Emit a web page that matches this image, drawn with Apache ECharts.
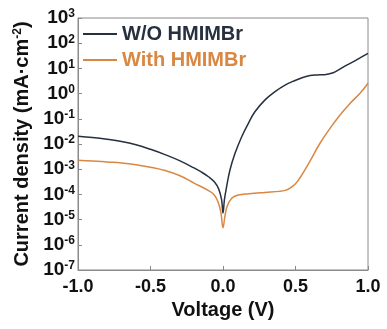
<!DOCTYPE html>
<html><head><meta charset="utf-8">
<script src="https://cdn.jsdelivr.net/npm/echarts@6/dist/echarts.min.js"></script>
<style>html,body{margin:0;padding:0;background:#fff}#c{width:387px;height:329px}</style>
</head><body><div id="c"></div>
<script>
const seriesNames = ['W/O HMIMBr', 'With HMIMBr'];
const xTicks = [-1.0, -0.5, 0.0, 0.5, 1.0];
const yTickExponents = [-7, -6, -5, -4, -3, -2, -1, 0, 1, 2, 3];

// W/O HMIMBr: voltage (V) and log10 of current density (mA/cm2)
const woVoltage = [-1.0,-0.9,-0.8,-0.7,-0.6,-0.5,-0.4,-0.3,-0.2,-0.15,-0.1,-0.06,-0.03,-0.01,0,0.01,0.025,0.048,0.083,0.129,0.175,0.22,0.29,0.359,0.428,0.497,0.55,0.6,0.65,0.7,0.76,0.8,0.853,0.9,0.945,1.0];
const woLog10 = [-1.69,-1.74,-1.81,-1.90,-2.03,-2.21,-2.42,-2.66,-2.95,-3.11,-3.30,-3.50,-3.78,-4.2,-4.74,-4.2,-3.69,-3.03,-2.37,-1.71,-1.18,-0.72,-0.25,0.08,0.34,0.52,0.64,0.72,0.74,0.75,0.83,0.95,1.13,1.27,1.42,1.60];

// With HMIMBr
const wVoltage = [-1.0,-0.9,-0.8,-0.7,-0.6,-0.5,-0.4,-0.3,-0.2,-0.1,-0.06,-0.034,-0.015,0,0.015,0.03,0.06,0.1,0.18,0.29,0.39,0.43,0.46,0.5,0.53,0.565,0.6,0.669,0.738,0.807,0.876,0.945,1.0];
const wLog10 = [-2.64,-2.67,-2.71,-2.75,-2.82,-2.92,-3.05,-3.25,-3.55,-3.85,-4.02,-4.30,-4.7,-5.32,-4.8,-4.45,-4.15,-4.03,-3.97,-3.92,-3.88,-3.84,-3.76,-3.58,-3.35,-3.03,-2.68,-1.97,-1.38,-0.85,-0.39,0.01,0.41];

const colors = ['#26303f', '#d98843'];
const toPairs = (xs, ls) => xs.map((x, i) => [x, Math.pow(10, ls[i])]);

const chart = echarts.init(document.getElementById('c'));
const font = 'Liberation Sans, Arial, sans-serif';
chart.setOption({
  animation: false,
  color: colors,
  grid: { left: 78, right: 19, top: 18, bottom: 59, show: true, borderColor: '#8a8a8a', borderWidth: 1 },
  legend: {
    left: 78, top: 19, orient: 'vertical', itemWidth: 34, itemHeight: 2, itemGap: 6, icon: 'rect',
    data: seriesNames.map((n, i) => ({ name: n, textStyle: { color: colors[i] } })),
    textStyle: { fontFamily: font, fontWeight: 'bold', fontSize: 20 }
  },
  xAxis: {
    type: 'value', min: -1, max: 1, interval: 0.5,
    axisLine: { show: true, onZero: false, lineStyle: { color: '#8a8a8a' } },
    axisTick: { show: true, inside: true, length: 4, lineStyle: { color: '#8a8a8a' } },
    splitLine: { show: false },
    axisLabel: { color: '#111', fontFamily: font, fontWeight: 'bold', fontSize: 18, margin: 8,
      formatter: v => xTicks.includes(v) ? v.toFixed(1) : '' },
    name: 'Voltage (V)', nameLocation: 'middle', nameGap: 27,
    nameTextStyle: { color: '#111', fontFamily: font, fontWeight: 'bold', fontSize: 20 }
  },
  yAxis: {
    type: 'log', logBase: 10, min: 1e-7, max: 1e3, interval: 1,
    axisLine: { show: true, onZero: false, lineStyle: { color: '#8a8a8a' } },
    axisTick: { show: true, inside: true, length: 4, lineStyle: { color: '#8a8a8a' } },
    splitLine: { show: false },
    axisLabel: {
      margin: 3,
      formatter: v => {
        const e = Math.round(Math.log10(v));
        return yTickExponents.includes(e) ? '{b|10}{s|' + e + '}' : '';
      },
      rich: {
        b: { color: '#111', fontFamily: font, fontWeight: 'bold', fontSize: 19, lineHeight: 20 },
        s: { color: '#111', fontFamily: font, fontWeight: 'bold', fontSize: 12, lineHeight: 12, verticalAlign: 'top' }
      }
    },
    name: '{a|Current density (mA·cm}{s|-2}{a|)}', nameLocation: 'middle', nameGap: 32,
    nameTextStyle: {
      rich: {
        a: { color: '#111', fontFamily: font, fontWeight: 'bold', fontSize: 20, lineHeight: 22 },
        s: { color: '#111', fontFamily: font, fontWeight: 'bold', fontSize: 12, lineHeight: 12, verticalAlign: 'top' }
      }
    }
  },
  series: [
    { name: seriesNames[0], type: 'line', data: toPairs(woVoltage, woLog10), showSymbol: false, smooth: 0.4, lineStyle: { width: 1.5 } },
    { name: seriesNames[1], type: 'line', data: toPairs(wVoltage, wLog10), showSymbol: false, smooth: 0.4, lineStyle: { width: 1.5 } }
  ]
});
</script></body></html>
